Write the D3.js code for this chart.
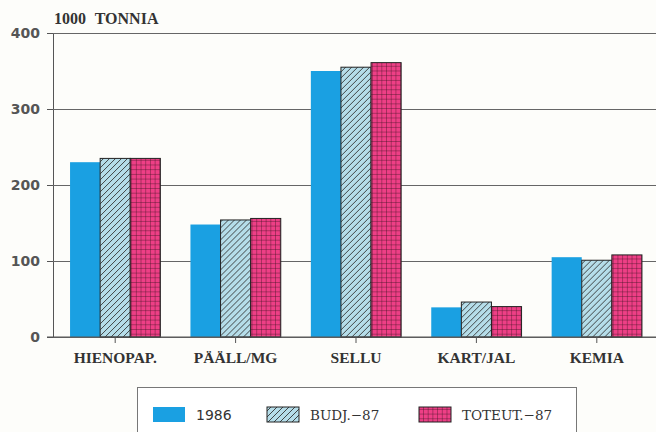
<!DOCTYPE html>
<html>
<head>
<meta charset="utf-8">
<style>
  body { margin: 0; background: #fdfdfa; }
  svg { display: block; }
  .yax text { font: bold 14px "DejaVu Sans", sans-serif; fill: #555; }
  .cat text { font: bold 15.5px "Liberation Serif", "DejaVu Serif", serif; fill: #333; }
  .legend text { font: 14px "DejaVu Sans", sans-serif; fill: #333; }
  .legend text.serif { font: 13.5px "DejaVu Serif", serif; }
</style>
<script src="https://d3js.org/d3.v7.min.js"></script>
</head>
<body>
<script>
var categories = ["HIENOPAP.", "PÄÄLL/MG", "SELLU", "KART/JAL", "KEMIA"];
var seriesNames = ["1986", "BUDJ.-87", "TOTEUT.-87"];
var v1986 = [230, 148, 350, 39, 105];
var vBudj = [235, 154, 355, 46, 101];
var vToteut = [235, 156, 361, 40, 108];
var yTicks = [0, 100, 200, 300, 400];

var width = 656, height = 432;
var svg = d3.select("body").append("svg").attr("width", width).attr("height", height);

var defs = svg.append("defs");
var hatch = defs.append("pattern").attr("id", "hatch").attr("patternUnits", "userSpaceOnUse")
    .attr("width", 6).attr("height", 6);
hatch.append("rect").attr("width", 6).attr("height", 6).attr("fill", "#b5dde9");
hatch.append("path").attr("d", "M-1,7 L7,-1 M-4,4 L4,-4 M2,10 L10,2")
    .attr("stroke", "#333").attr("stroke-width", 0.9);

var grid = defs.append("pattern").attr("id", "grid").attr("patternUnits", "userSpaceOnUse")
    .attr("width", 4.7).attr("height", 4.7);
grid.append("rect").attr("width", 4.7).attr("height", 4.7).attr("fill", "#ee3f86");
grid.append("path").attr("d", "M0,0 H4.7 M0,0 V4.7").attr("stroke", "#3a1020").attr("stroke-width", 0.75);

var fills = ["#1aa0e2", "url(#hatch)", "url(#grid)"];
var strokes = ["none", "#222", "#222"];

var x = d3.scaleBand().domain(categories).range([55, 657]).paddingInner(0.25).paddingOuter(0.125);
var xs = d3.scaleBand().domain(seriesNames).range([0, x.bandwidth()]);
var y = d3.scaleLinear().domain([0, 400]).range([337, 33]);

// gridlines + y axis
svg.append("g").attr("class", "yax").attr("transform", "translate(53,0)")
   .call(d3.axisLeft(y).tickValues(yTicks).tickSize(6).tickPadding(7))
   .call(function(g) {
       g.select(".domain").attr("stroke", "#555");
       g.selectAll(".tick line").attr("stroke", "#555");
       g.selectAll(".tick").append("line").attr("x1", 0).attr("x2", 603)
        .attr("stroke", "#666").attr("stroke-width", 1);
   });

var data = categories.map(function(c, i) {
    return { cat: c, vals: [v1986[i], vBudj[i], vToteut[i]] };
});

var groups = svg.selectAll(".grp").data(data).enter().append("g")
    .attr("transform", function(d) { return "translate(" + x(d.cat) + ",0)"; });

groups.selectAll("rect").data(function(d) {
        return d.vals.map(function(v, j) { return { s: seriesNames[j], v: v, j: j }; });
    }).enter().append("rect")
    .attr("x", function(d) { return xs(d.s); })
    .attr("width", xs.bandwidth())
    .attr("y", function(d) { return y(d.v); })
    .attr("height", function(d) { return y(0) - y(d.v); })
    .attr("fill", function(d) { return fills[d.j]; })
    .attr("stroke", function(d) { return strokes[d.j]; })
    .attr("stroke-width", 1);

// x axis
svg.append("g").attr("class", "cat").attr("transform", "translate(0,337)")
   .call(d3.axisBottom(x).tickSize(6).tickPadding(9))
   .call(function(g) {
       g.select(".domain").attr("d", "M47,0H656").attr("stroke", "#555");
       g.selectAll(".tick line").attr("stroke", "#555");
   });

svg.append("text").attr("x", 54).attr("y", 24).text("1000 TONNIA")
   .style("font", "bold 16px 'Liberation Serif', serif").style("word-spacing", "5px")
   .style("fill", "#333");

// legend
var lg = svg.append("g").attr("class", "legend");
lg.append("rect").attr("x", 137.5).attr("y", 387.5).attr("width", 439).attr("height", 60)
  .attr("fill", "#fff").attr("stroke", "#777");
var lx = [153, 267, 419];
seriesNames.forEach(function(s, j) {
    lg.append("rect").attr("x", lx[j]).attr("y", 407).attr("width", 32).attr("height", 15)
      .attr("fill", fills[j]).attr("stroke", strokes[j]);
    lg.append("text").attr("x", lx[j] + 43).attr("y", 420)
      .attr("class", j === 0 ? null : "serif")
      .text(s.replace("-", "\u2212"));
});
</script>
</body>
</html>
